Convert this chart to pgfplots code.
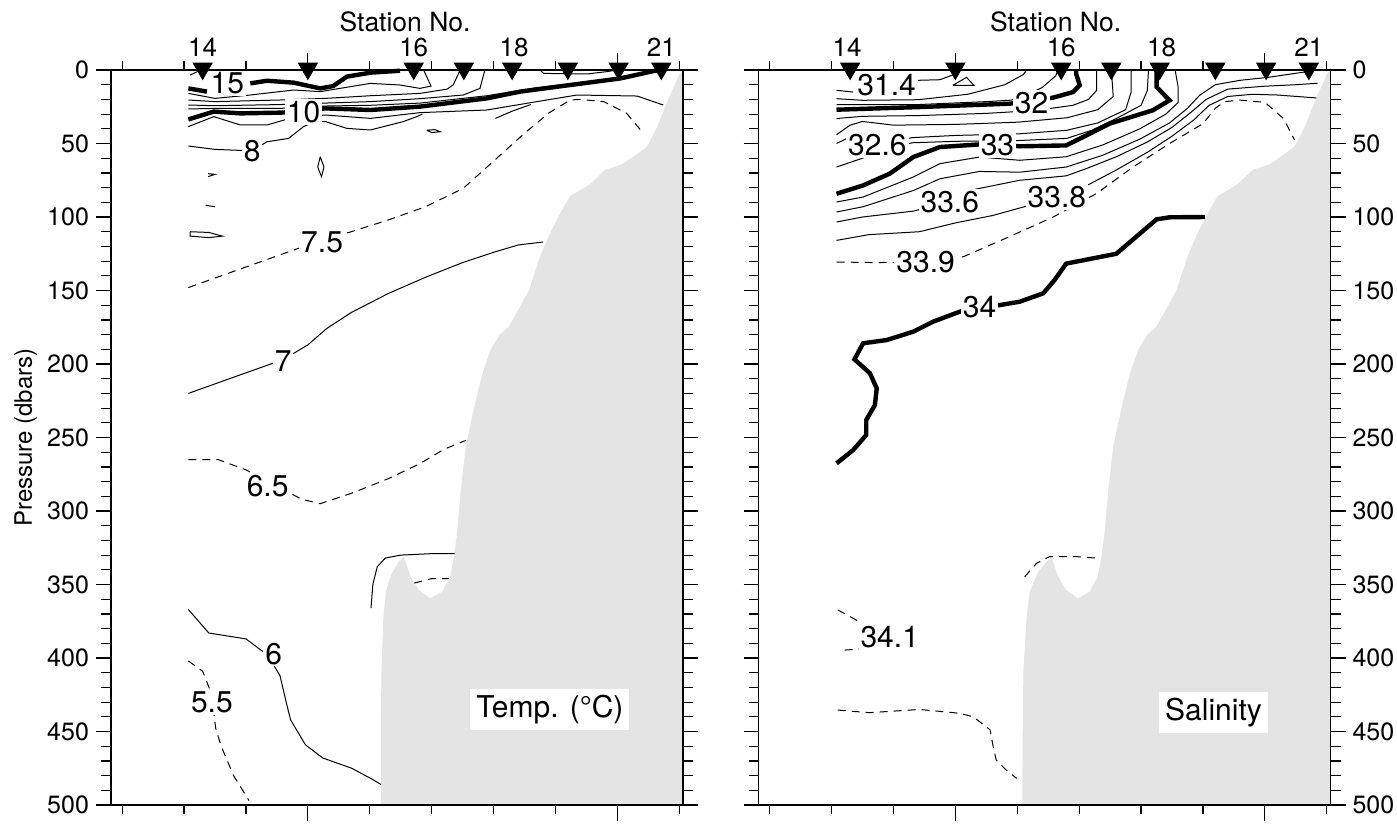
\documentclass[border=0pt]{standalone}
\usepackage{fontspec}
\setmainfont{TeX Gyre Heros}
\usepackage{pgfplots}
\pgfplotsset{compat=1.18}
\definecolor{land}{RGB}{228,228,228}
\newcommand{\clab}{\fontsize{15}{15}\selectfont}
\tikzset{
 cthin/.style={black, line width=0.5pt},
 cthk/.style={black, line width=2.2pt},
 cdsh/.style={black, line width=0.5pt, dash pattern=on 4pt off 3pt},
 lab/.style={fill=white, inner sep=1pt, font=\clab},
 slab/.style={font=\fontsize{13}{13}\selectfont, yshift=11.5pt},
}
\pgfplotsset{
 sect/.style={
  scale only axis, width=286pt, height=367.5pt,
  xmin=-0.18, xmax=9.06, ymin=0, ymax=500, y dir=reverse,
  xtick=\empty,
  ytick={0,50,...,500}, minor ytick={10,20,...,490},
  tick align=outside, major tick length=7.5pt, minor tick length=5pt,
  ytick pos=both,
  clip=false, axis on top,
  axis line style={line width=0.8pt},
  tick style={black, line width=0.6pt},
  yticklabel style={font=\fontsize{12.5}{12.5}\selectfont},
  /pgf/number format/assume math mode=true,
 },
 stn/.style={only marks, mark=triangle*, mark size=5.5pt, mark options={yshift=0.75pt, rotate=180, fill=black, draw=black}},
}
\newcommand{\xticks}{%
\pgfplotsinvokeforeach{0,1,2,4,5,6,7,9}{\draw[line width=0.6pt] (axis cs:##1,0) -- ++(0pt,4.5pt) (axis cs:##1,500) -- ++(0pt,-4.5pt);}%
\pgfplotsinvokeforeach{3,8}{\draw[line width=0.6pt] (axis cs:##1,0) -- ++(0pt,8.5pt) (axis cs:##1,500) -- ++(0pt,-8pt);}%
}
\begin{document}
\begin{tikzpicture}[x=1pt,y=1pt]
\useasboundingbox (0,0) rectangle (698.5,412.5);
% ================= LEFT: temperature =================
\begin{axis}[sect, at={(55.5pt,10pt)}, anchor=south west, yticklabel pos=left]
\addplot[fill=land, draw=none] coordinates {(4.18,500) (4.18,440) (4.19,408) (4.22,373) (4.26,355) (4.30,349) (4.36,342) (4.47,334.5) (4.55,331) (4.66,344.7) (4.79,353.7) (4.98,359.4) (5.17,354.9) (5.30,344.7) (5.36,331) (5.41,315) (5.47,286) (5.55,256) (5.71,225) (5.82,206.5) (5.95,190.6) (6.10,180) (6.24,175) (6.40,163) (6.57,150) (6.74,128) (6.90,112) (7.07,98) (7.23,86) (7.55,78) (7.80,68) (8.08,64) (8.29,58) (8.48,52) (8.64,39) (8.83,19) (9.00,3) (9.06,0) (9.06,500)};
\addplot[cthin] coordinates {(1.10,3.4) (1.27,0)};
\addplot[cthin] coordinates {(1.07,15.9) (1.50,19.3) (2.07,17.0) (2.77,13.6) (3.20,14.7) (4.01,9.1) (4.49,10.2) (4.81,12.5) (4.99,10.9) (4.87,0)};
\addplot[cthin] coordinates {(1.07,20.4) (1.50,21.5) (2.55,20.4) (3.28,19.3) (4.01,17.5) (4.81,15.9) (5.25,13) (5.35,10) (5.46,0)};
\addplot[cthin] coordinates {(1.07,23.8) (1.50,24.3) (2.55,23.5) (3.28,22.5) (4.01,21.5) (4.81,19.5) (5.51,17.0) (5.78,12.5) (5.86,0)};
\addplot[cthin] coordinates {(1.07,26.5) (1.50,26.1) (2.55,26.1) (3.28,24.5) (4.01,24.0) (4.81,22.5) (5.89,17.5) (6.70,12.0) (7.40,8.5) (8.05,5.0) (8.60,1.5) (8.70,0)};
\addplot[cthin] coordinates {(6.75,0) (6.81,2.3) (7.51,2.7) (7.83,1.1) (7.99,0)};
\addplot[cthin] coordinates {(1.07,38.5) (1.48,31.7) (1.91,37.4) (2.34,37.4) (2.70,33) (3.28,30.6) (4.01,32.9) (4.81,29.0) (5.89,27.2) (6.70,21.5) (7.35,17.0) (8.32,17.7) (8.74,23.8)};
\addplot[cthin] coordinates {(1.07,51.7) (1.50,54.0) (2.10,55) (2.34,48.8) (2.69,46.5) (2.93,38.5) (3.10,35.5) (3.28,35) (3.63,39.7) (4.01,40.8) (4.54,35.1) (4.76,31.7) (4.85,30)};
\addplot[cthin] coordinates {(6.03,32.9) (6.30,28) (6.60,23.5)};
\addplot[cthin] coordinates {(3.20,59) (3.26,66) (3.22,72.6) (3.16,66) (3.20,59)};
\addplot[cthin] coordinates {(4.92,41) (5.05,40.5) (5.14,42) (5.00,42.5) (4.92,41)};
\addplot[cthin] coordinates {(1.39,70.5) (1.50,71) (1.39,72.5)};
\addplot[cthin] coordinates {(1.35,92) (1.50,93)};
\addplot[cthin] coordinates {(1.10,110) (1.40,110.5) (1.62,113) (1.40,114) (1.10,113) (1.10,110)};
\addplot[cthk] coordinates {(1.07,12.5) (1.37,14.7)};
\addplot[cthk] coordinates {(2.07,9.1) (2.34,7.3) (2.77,8.6) (3.20,12.5) (3.41,10.9) (3.63,4.5) (4.01,1.8) (4.49,0.5)};
\addplot[cthk] coordinates {(1.07,33.6) (1.48,28.3) (1.91,29.5) (2.55,29.0) (2.93,28.3) (3.28,26.1) (4.01,27.2) (4.81,24.9) (5.89,19.3) (6.43,14.7) (7.24,10.2) (8.05,5.7) (8.66,0)};
\addplot[cdsh] coordinates {(1.07,148) (1.6,140) (2.2,131) (2.8,122) (3.23,116) (3.7,110) (4.3,102) (4.9,93) (5.51,80.5) (6.0,62) (6.5,43) (6.9,29) (7.24,20.4) (7.40,20) (7.78,21.5) (8.15,29.5) (8.42,43.1)};
\addplot[cthin] coordinates {(1.07,220) (1.6,212) (2.2,203) (2.6,197) (3.0,187) (3.3,176) (3.7,165) (4.3,152) (4.9,141) (5.5,131) (6.0,124) (6.4,119) (6.8,117)};
\addplot[cdsh] coordinates {(1.07,265) (1.55,265) (2.0,272) (2.45,282) (2.9,292) (3.2,295) (3.7,288) (4.3,278) (4.8,268) (5.2,258) (5.55,252)};
\addplot[cthin] coordinates {(1.07,367) (1.4,383) (2.0,387) (2.35,398) (2.55,412) (2.65,430) (2.72,442) (2.96,459) (3.24,468) (3.71,475) (4.04,482.5) (4.18,486)};
\addplot[cdsh] coordinates {(1.07,402) (1.3,409) (1.45,425) (1.51,447.6) (1.6,460) (1.8,480) (2.05,497)};
\addplot[cthin] coordinates {(4.02,366) (4.05,350) (4.12,338) (4.25,332) (4.50,330) (5.00,329) (5.37,329)};
\addplot[cdsh] coordinates {(4.72,349) (5.00,346) (5.28,346)};
\node[lab] at (axis cs:1.70,9) {15};
\node[lab] at (axis cs:2.93,28.5) {10};
\node[lab] at (axis cs:2.10,55) {8};
\node[lab] at (axis cs:3.23,117) {7.5};
\node[lab] at (axis cs:2.60,198) {7};
\node[lab] at (axis cs:2.35,283) {6.5};
\node[lab] at (axis cs:2.45,397) {6};
\node[lab] at (axis cs:1.45,430) {5.5};
\node[fill=white, inner sep=3pt, font=\clab] at (axis cs:6.91,435) {Temp. (°C)};
\xticks
\addplot[stn] coordinates {(1.30,0) (3.00,0) (4.71,0) (5.52,0) (6.30,0) (7.20,0) (8.02,0) (8.71,0)};
\node[slab] at (axis cs:1.30,0) {14};
\node[slab] at (axis cs:4.71,0) {16};
\node[slab] at (axis cs:6.33,0) {18};
\node[slab] at (axis cs:8.71,0) {21};
\node[font=\fontsize{13.25}{13.25}\selectfont, yshift=24pt] at (axis cs:4.57,0) {Station No.};
\node[rotate=90, font=\fontsize{12}{12}\selectfont] at (axis cs:-1.56,250) {Pressure (dbars)};
\end{axis}
% ================= RIGHT: salinity =================
\begin{axis}[sect, at={(379.25pt,10pt)}, anchor=south west, yticklabel pos=right]
\addplot[fill=land, draw=none] coordinates {(4.08,500) (4.09,440) (4.10,408) (4.15,373) (4.20,355) (4.26,349) (4.33,342) (4.47,334.5) (4.55,331) (4.66,344.7) (4.79,353.7) (4.98,359.4) (5.17,354.9) (5.30,344.7) (5.36,331) (5.41,315) (5.47,286) (5.55,256) (5.71,225) (5.82,206.5) (5.95,190.6) (6.10,180) (6.24,175) (6.40,163) (6.57,150) (6.74,128) (6.90,112) (7.07,98) (7.23,86) (7.55,78) (7.80,68) (8.08,64) (8.29,58) (8.48,52) (8.64,39) (8.83,19) (9.00,3) (9.06,0) (9.06,500)};
\addplot[cthin] coordinates {(1.08,13.8) (1.35,15)};
\addplot[cthin] coordinates {(2.40,7.0) (2.75,6.6) (2.95,3.5) (3.0,0)};
\addplot[cthin] coordinates {(2.96,10.4) (3.18,5.0) (3.30,10.4) (2.96,10.4)};
\addplot[cthin] coordinates {(1.08,19.5) (1.5,20.6) (2.4,20.2) (3.2,16.5) (3.8,10) (4.1,3) (4.15,0)};
\addplot[cthin] coordinates {(1.08,23.5) (2.4,23.5) (3.5,21.5) (3.9,20.5) (4.2,16) (4.4,12) (4.62,4) (4.66,0)};
\addplot[cthin] coordinates {(1.08,33) (1.5,31.5) (2.4,31) (3.5,29.5) (4.3,27.5) (4.9,24) (5.15,20) (5.28,14) (5.28,0)};
\addplot[cthin] coordinates {(1.08,44) (1.3,37.5) (1.5,35) (2.0,37.5) (3.0,37) (4.0,35.5) (4.8,32.5) (5.3,27) (5.55,18) (5.52,0)};
\addplot[cthin] coordinates {(1.08,50) (1.25,46.5) (1.74,51) (2.3,46) (3.0,44.5) (4.0,43.5) (4.8,41) (5.3,36) (5.75,27) (5.84,15) (5.84,0)};
\addplot[cthin] coordinates {(1.08,66) (1.5,60) (1.9,54) (2.3,49.5) (3.0,48.5) (4.0,48) (4.8,46.5) (5.2,41) (5.6,33) (6.0,24) (6.1,14) (6.12,0)};
\addplot[cthin] coordinates {(1.08,89.8) (1.51,86.4) (2.32,72.8) (2.75,63.7) (3.39,59.2) (4.04,61.4) (4.79,59) (5.38,51) (5.98,40) (6.4,30) (6.6,22) (6.6,12) (6.55,0)};
\addplot[cthin] coordinates {(1.08,96.6) (1.51,93) (2.32,82) (2.75,74) (3.39,69) (4.04,69.5) (4.79,66) (5.38,58) (5.98,47) (6.46,36) (6.75,26) (6.95,17) (7.2,10) (7.6,7) (8.05,5) (8.7,1)};
\addplot[cthin] coordinates {(1.08,103.4) (1.5,100) (2.32,96) (2.91,90) (3.1,83) (4.04,75) (4.79,72) (5.12,67) (5.6,59) (6.1,49) (6.5,39) (6.8,29) (7.05,20) (7.4,13) (8.0,11) (8.5,10) (8.85,9)};
\addplot[cthin] coordinates {(1.08,115.9) (1.6,112) (2.42,110) (3.0,104) (3.6,99) (4.2,92) (4.64,86.4) (5.15,78) (5.6,68) (6.1,56) (6.5,45) (6.85,34) (7.1,24) (7.4,18) (7.8,16.5) (8.2,17) (8.83,19)};
\addplot[cdsh] coordinates {(1.08,130.6) (1.7,131) (2.52,130.6) (3.13,127) (3.84,114) (4.58,100) (5.28,84) (5.87,66) (6.46,50) (7.0,36.5) (7.2,26) (7.35,21.5) (7.6,20.5) (8.0,22) (8.3,33) (8.48,47.6)};
\addplot[cthk] coordinates {(1.08,27.0) (2.42,25.2) (3.88,22.9) (4.58,18.8) (4.90,15.0) (5.01,10.4) (4.95,2.5) (4.95,0)};
\addplot[cthk] coordinates {(1.08,84.2) (1.51,78.5) (1.94,70.5) (2.32,59.2) (2.75,52.4) (3.39,50.6) (3.68,50.6) (4.04,51.9) (4.79,51.3) (5.12,44.4) (5.49,36.5) (6.19,27.4) (6.46,20.6) (6.25,11.6) (6.25,0)};
\addplot[cthk] coordinates {(1.08,267.6) (1.35,258.5) (1.56,248.3) (1.56,238.1) (1.70,227.9) (1.73,216.6) (1.62,206.3) (1.37,196.8) (1.51,185.9) (1.89,183.7) (2.32,178) (2.64,171.2) (3.07,164.4) (3.39,161) (3.72,159.9) (4.04,157.6) (4.42,151.9) (4.60,143) (4.79,131.7) (5.60,125) (5.98,111.3) (6.25,101.6) (6.46,100.2) (7.03,100)};
\addplot[cdsh] coordinates {(1.10,367.3) (1.45,375.3)};
\addplot[cdsh] coordinates {(1.21,394.6) (1.61,393.5)};
\addplot[cdsh] coordinates {(1.10,435.4) (1.61,437.2) (2.42,435) (3.07,437.6) (3.29,440) (3.56,448.8) (3.61,460.1) (3.66,469.4) (3.82,476.2) (3.99,481.9)};
\addplot[cdsh] coordinates {(4.12,344.7) (4.31,335.6) (4.52,331) (4.95,331) (5.33,332.2)};
\node[lab] at (axis cs:1.89,10) {31.4};
\node[lab] at (axis cs:4.23,22.5) {32};
\node[lab] at (axis cs:1.74,51) {32.6};
\node[lab] at (axis cs:3.68,51) {33};
\node[lab] at (axis cs:2.91,90) {33.6};
\node[lab] at (axis cs:4.64,86.4) {33.8};
\node[lab] at (axis cs:2.52,130.6) {33.9};
\node[lab] at (axis cs:3.39,161) {34};
\node[lab] at (axis cs:1.94,385.5) {34.1};
\node[fill=white, inner sep=3pt, font=\clab] at (axis cs:7.17,437) {Salinity};
\xticks
\addplot[stn] coordinates {(1.30,0) (3.00,0) (4.71,0) (5.52,0) (6.30,0) (7.20,0) (8.02,0) (8.71,0)};
\node[slab] at (axis cs:1.25,0) {14};
\node[slab] at (axis cs:4.71,0) {16};
\node[slab] at (axis cs:6.33,0) {18};
\node[slab] at (axis cs:8.71,0) {21};
\node[font=\fontsize{13.25}{13.25}\selectfont, yshift=24pt] at (axis cs:4.62,0) {Station No.};
\end{axis}
\end{tikzpicture}
\end{document}
